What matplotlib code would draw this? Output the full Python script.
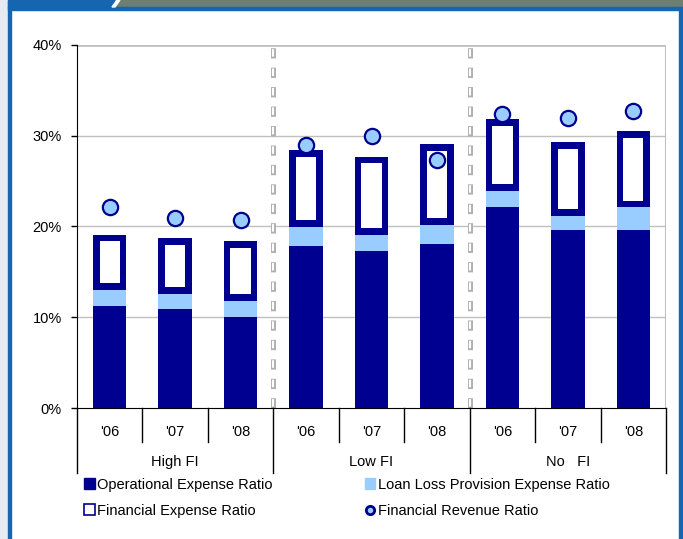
import numpy as np
import matplotlib.pyplot as plt
from matplotlib.patches import Rectangle, Patch, Polygon
from matplotlib.lines import Line2D
from matplotlib.ticker import PercentFormatter

plt.rcParams['font.family'] = ['Liberation Sans', 'DejaVu Sans']
plt.rcParams['lines.scale_dashes'] = False

# data (percent)
years = ["'06", "'07", "'08"]
groups = ['High FI', 'Low FI', 'No   FI']
operational = [11.2, 10.9, 10.0, 17.9, 17.3, 18.1, 22.2, 19.6, 19.6]
loan_loss = [1.8, 1.7, 1.8, 2.1, 1.8, 2.1, 1.7, 1.6, 2.5]
financial_exp = [6.1, 6.1, 6.6, 8.4, 8.6, 8.9, 7.9, 8.1, 8.4]
financial_rev = [22.2, 20.9, 20.7, 29.0, 30.0, 27.3, 32.4, 32.0, 32.7]

NAVY = '#000090'
LIGHT = '#99CCFF'
GRID = '#C0C0C0'
FS = 10.5
W, H = 683, 539

fig = plt.figure(figsize=(W / 100, H / 100), dpi=100)


def fx(px):
    return px / W


def fy(py):
    return 1 - py / H


# frame decoration
fig.patches.append(Rectangle((0, 0), fx(8), 1, transform=fig.transFigure, color='#E6EAF3', zorder=0))
fig.patches.append(Rectangle((fx(8), fy(7)), 1, 7 / H, transform=fig.transFigure, color='#6C7F73', zorder=1))
fig.patches.append(Rectangle((fx(8), fy(7)), fx(106), 7 / H, transform=fig.transFigure, color='#1565B0', zorder=2))
fig.patches.append(Polygon([(fx(112), fy(7)), (fx(115), fy(7)), (fx(120), fy(0)), (fx(117), fy(0))],
                           closed=True, transform=fig.transFigure, color='white', zorder=3))
fig.patches.append(Rectangle((fx(8), fy(9.5)), fx(674), 2.5 / H, transform=fig.transFigure, color='#1565B0', zorder=2))
fig.patches.append(Rectangle((fx(8), 0), fx(2.5), fy(7), transform=fig.transFigure, color='#1565B0', zorder=2))
fig.patches.append(Rectangle((fx(679), 0), fx(3), fy(7), transform=fig.transFigure, color='#1565B0', zorder=2))

ax = fig.add_axes([fx(77), fy(408), fx(666) - fx(77), fy(45) - fy(408)])

x = np.arange(len(operational))
w = 0.51
bx, by = 0.10, 0.74  # border of the financial expense boxes, in data units

op = np.array(operational)
ll = np.array(loan_loss)
fe = np.array(financial_exp)

ax.bar(x, op, w, color=NAVY, zorder=3)
ax.bar(x, ll, w, bottom=op, color=LIGHT, zorder=3)
ax.bar(x, fe, w, bottom=op + ll, color=NAVY, zorder=3)
ax.bar(x, fe - 2 * by, w - 2 * bx, bottom=op + ll + by, color='white', zorder=4)
ax.plot(x, financial_rev, 'o', ms=11, mfc=LIGHT, mec=NAVY, mew=1.6, zorder=5, clip_on=False)

ax.set_xlim(-0.5, 8.5)
ax.set_ylim(0, 40)
ax.set_yticks([0, 10, 20, 30, 40])
ax.yaxis.set_major_formatter(PercentFormatter(decimals=0))
ax.tick_params(axis='y', direction='out', length=4, width=1, labelsize=FS, pad=7, colors='black')
ax.set_xticks([])

for v in [10, 20, 30]:
    ax.axhline(v, color=GRID, lw=1, zorder=1)
ax.axhline(40, color=GRID, lw=2, zorder=1)
ax.axvline(8.5, color=GRID, lw=1.5, zorder=1)

# dashed group separators drawn as hollow dashes
for g in [2.5, 5.5]:
    ax.plot([g, g], [0, 40], color='#B0B0B0', lw=3.6, linestyle=(0, (7.4, 6.6)), zorder=2)
    ax.plot([g, g], [0, 40], color='white', lw=1.5, linestyle=(13.0, (5.4, 8.6)), zorder=2)

for s in ['top', 'right']:
    ax.spines[s].set_visible(False)
ax.spines['left'].set_color('black')
ax.spines['bottom'].set_color('black')
ax.spines['bottom'].set_zorder(6)

# multi-level category axis
for i in range(1, 9):
    if i % 3 != 0:
        ax.plot([i - 0.5, i - 0.5], [0, -3.7], color='black', lw=1, clip_on=False)
for g in [-0.5, 2.5, 5.5, 8.5]:
    ax.plot([g, g], [0, -7.2], color='black', lw=1, clip_on=False)
for i in x:
    ax.text(i, -2.65, years[i % 3], ha='center', va='center', fontsize=FS)
for j, name in enumerate(groups):
    ax.text(3 * j + 1, -5.95, name, ha='center', va='center', fontsize=FS)

handles = [Patch(facecolor=NAVY, edgecolor=NAVY),
           Patch(facecolor='white', edgecolor=NAVY, linewidth=1.2),
           Patch(facecolor=LIGHT, edgecolor=LIGHT),
           Line2D([], [], marker='o', ls='none', ms=6, mfc=LIGHT, mec=NAVY, mew=2)]
labels = ['Operational Expense Ratio', 'Financial Expense Ratio',
          'Loan Loss Provision Expense Ratio', 'Financial Revenue Ratio']
fig.legend(handles, labels, ncol=2, loc='upper left', bbox_to_anchor=(fx(84), fy(477.5)),
           frameon=False, fontsize=FS, handlelength=0.75, handleheight=0.75, handletextpad=0.15,
           columnspacing=6.3, labelspacing=0.85, borderpad=0, borderaxespad=0)

fig.savefig('out.png', dpi=100)
